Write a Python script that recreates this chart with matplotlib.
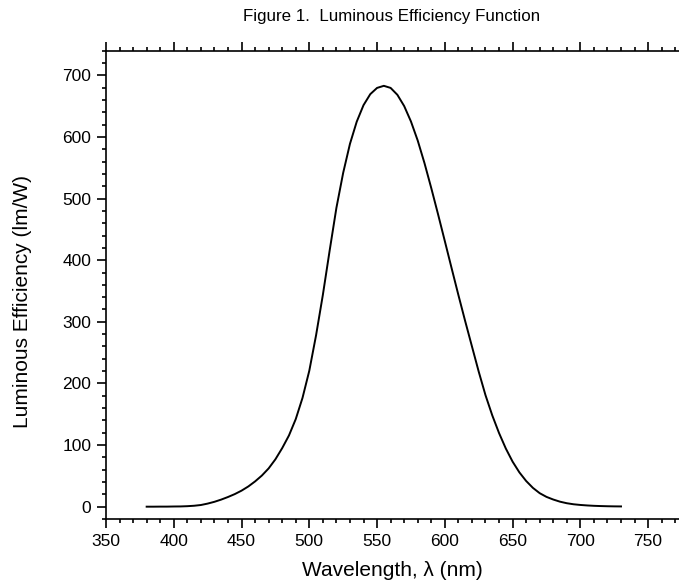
import matplotlib
matplotlib.use('Agg')
import matplotlib.pyplot as plt
from matplotlib.ticker import MultipleLocator

plt.rcParams['font.family'] = ['Liberation Sans', 'DejaVu Sans']

# photopic luminous efficiency (lm/W), 5 nm steps
wavelength = [380, 385, 390, 395, 400, 405, 410, 415, 420, 425, 430, 435, 440, 445,
              450, 455, 460, 465, 470, 475, 480, 485, 490, 495, 500, 505, 510, 515,
              520, 525, 530, 535, 540, 545, 550, 555, 560, 565, 570, 575, 580, 585,
              590, 595, 600, 605, 610, 615, 620, 625, 630, 635, 640, 645, 650, 655,
              660, 665, 670, 675, 680, 685, 690, 695, 700, 705, 710, 715, 720, 725, 730]
efficiency = [0.0, 0.0, 0.1, 0.1, 0.3, 0.4, 0.8, 1.5, 2.7, 5.0, 7.9, 11.5, 15.7, 20.4,
              26.0, 32.8, 41.0, 50.5, 62.1, 76.9, 95.0, 115.6, 142.1, 176.6, 220.6, 278.2,
              343.6, 415.4, 484.9, 541.8, 588.8, 624.8, 651.6, 669.5, 679.6, 683.0, 679.6,
              668.4, 650.2, 625.2, 594.2, 557.5, 517.0, 474.6, 431.0, 387.1, 343.6, 301.3,
              260.2, 219.2, 181.0, 148.2, 119.5, 94.4, 73.1, 55.7, 41.7, 30.5, 21.9, 15.9,
              11.6, 8.1, 5.6, 3.9, 2.8, 2.0, 1.4, 1.0, 0.7, 0.5, 0.4]

W, H = 679, 586
fig = plt.figure(figsize=(W / 100, H / 100), dpi=100)
ax = fig.add_axes([106 / W, 1 - 519 / H, (682 - 106) / W, (519 - 50.7) / H])

ax.plot(wavelength, efficiency, color='black', linewidth=1.4)

ax.set_xlim(350, 775)
ax.set_ylim(-20, 740)

ax.xaxis.set_major_locator(MultipleLocator(50))
ax.xaxis.set_minor_locator(MultipleLocator(10))
ax.yaxis.set_major_locator(MultipleLocator(100))
ax.yaxis.set_minor_locator(MultipleLocator(20))
ax.set_yticks(range(0, 701, 100))

ax.spines['right'].set_visible(False)
for s in ['left', 'bottom', 'top']:
    ax.spines[s].set_linewidth(1.2)

ax.tick_params(which='both', direction='out', width=1.2, labelsize=12.5,
               top=True, labeltop=False, right=False)
ax.tick_params(which='major', length=6.5, pad=4)
ax.tick_params(which='minor', length=3.2)

ax.set_xlabel('Wavelength, λ (nm)', fontsize=15)
ax.set_ylabel('Luminous Efficiency (lm/W)', fontsize=15)
# place axis labels at positions
ax.xaxis.set_label_coords(392 / W, 1 - 571 / H, transform=fig.transFigure)
ax.yaxis.set_label_coords(23 / W, 1 - 302 / H, transform=fig.transFigure)
ax.xaxis.label.set_va('center')
ax.yaxis.label.set_va('center')

fig.text(392 / W, 1 - 17 / H, 'Figure 1.  Luminous Efficiency Function',
         ha='center', va='center', fontsize=12.2)

plt.savefig('out.png', dpi=100)
